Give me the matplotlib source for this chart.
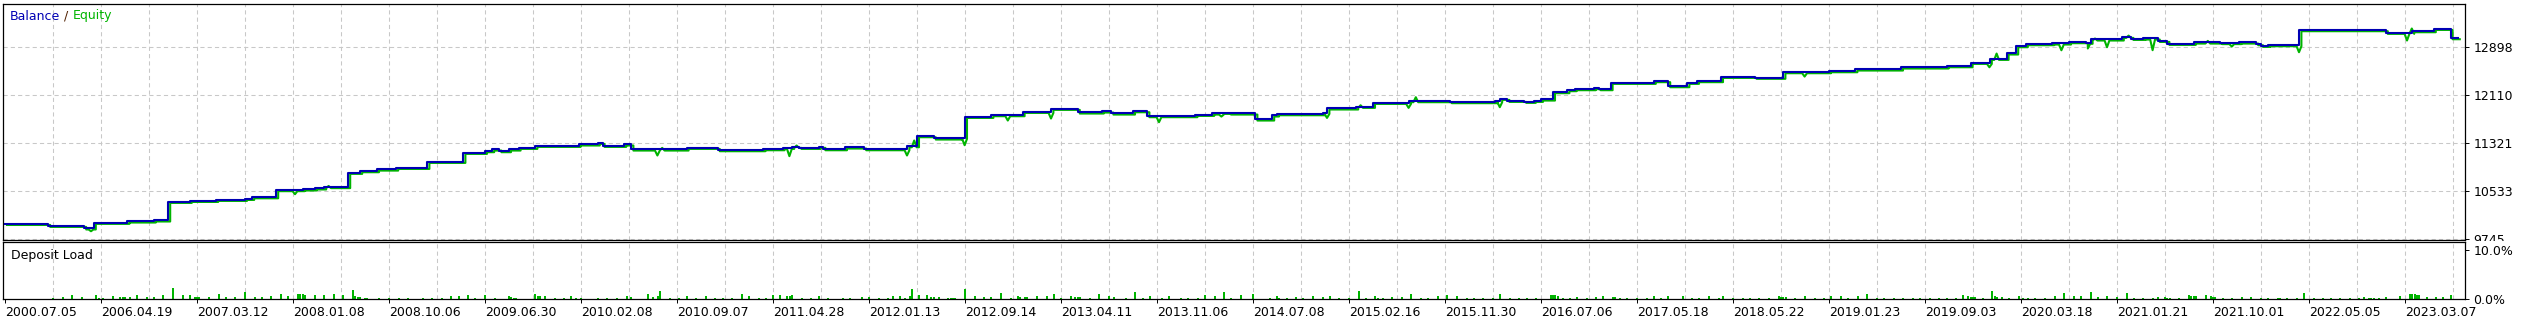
import numpy as np
import matplotlib
matplotlib.use("Agg")
import matplotlib.pyplot as plt
from matplotlib.transforms import ScaledTranslation, Bbox

# balance curve: trade number where the balance changes, and the new balance
bal_t = [0, 18, 33, 37, 51, 62, 68, 77, 88, 100, 103, 113, 124, 129, 133, 143, 148, 155, 163,
         176, 191, 200, 203, 206, 210, 214, 221, 239, 247, 249, 258, 261, 284, 297, 316, 324,
         328, 331, 339, 341, 350, 358, 376, 380, 387, 398, 400, 411, 424, 436, 447, 457, 461,
         470, 476, 496, 503, 507, 510, 521, 528, 530, 549, 551, 563, 570, 585, 602, 621, 623,
         626, 633, 637, 640, 645, 651, 654, 662, 664, 669, 687, 693, 701, 705, 715, 729, 741,
         760, 771, 790, 809, 819, 827, 834, 838, 842, 853, 860, 867, 869, 882, 886, 891, 897,
         901, 912, 923, 931, 938, 940, 943, 956, 992, 1003, 1012, 1019, 1022]
bal_v = [10000, 9968, 9926, 10018, 10040, 10057, 10362, 10378, 10395, 10411, 10438, 10555,
         10566, 10583, 10605, 10839, 10866, 10893, 10920, 11019, 11167, 11195, 11222, 11195,
         11222, 11249, 11282, 11305, 11331, 11282, 11305, 11222, 11249, 11211, 11227, 11249,
         11266, 11249, 11266, 11227, 11255, 11227, 11276, 11441, 11403, 11414, 11758, 11786,
         11840, 11890, 11830, 11846, 11813, 11851, 11770, 11791, 11813, 11824, 11813, 11715,
         11781, 11802, 11824, 11896, 11923, 11988, 12016, 12000, 12016, 12054, 12021, 12005,
         12021, 12043, 12164, 12197, 12213, 12230, 12213, 12317, 12345, 12262, 12317, 12345,
         12415, 12400, 12492, 12508, 12536, 12569, 12590, 12645, 12711, 12799, 12919, 12952,
         12963, 12985, 12975, 13029, 13072, 13039, 13045, 13006, 12957, 12979, 12970, 12979,
         12952, 12924, 12935, 13182, 13138, 13165, 13203, 13050, 13050]

# floating equity dips / spikes between closed trades
dip_t = [35, 120, 134, 271, 273, 326, 329, 375, 378, 399, 417, 435, 480, 506, 550, 564, 584,
         587, 622, 749, 826, 829, 856, 867, 870, 875, 884, 894, 917, 927, 955, 1000, 1002]
dip_v = [9897, 10505, 10641, 11141, 11266, 11130, 11305, 11141, 11387, 11310, 11715, 11748,
         11688, 11780, 11758, 11966, 11923, 12098, 11934, 12437, 12590, 12815, 12869, 12898,
         13062, 12919, 13110, 12870, 13023, 12930, 12837, 13029, 13226]

# deposit load per trade, %
load_t = [20, 24, 28, 32, 38, 39, 41, 45, 48, 49, 50, 52, 55, 59, 62, 66, 70, 74, 77, 79, 80,
          81, 85, 89, 92, 96, 100, 104, 107, 111, 115, 118, 122, 123, 124, 125, 129, 133, 137,
          141, 145, 146, 147, 148, 150, 151, 156, 160, 164, 168,
          174, 178, 182, 186, 189, 193, 196, 200, 204, 210, 211, 212, 213, 221, 222, 223, 225,
          229, 233, 236, 238, 240, 247, 251, 255, 259, 261, 268, 270, 272, 273, 277, 281, 284,
          288, 292, 296, 299, 303, 307, 310, 314, 317, 320, 323, 326, 327, 328, 332, 336, 339,
          343,
          349, 352, 357, 360, 364, 368, 370, 373, 375, 377, 378, 381, 384, 386, 387, 389, 393,
          394, 395, 396, 400, 404, 408, 411, 415, 419, 422, 423, 425, 426, 430, 434, 437, 440,
          444, 446, 447, 448, 452, 456, 460, 462, 467, 471, 474, 477, 482, 485, 490, 493, 497,
          500, 504, 508, 511, 515, 520,
          527, 530, 531, 534, 538, 541, 545, 549, 552, 556, 560, 564, 567, 571, 572, 574, 578,
          582, 586, 590, 593, 597, 601, 605, 609, 612, 616, 620, 623, 627, 631, 634, 638, 644,
          645, 646, 647, 649, 652, 655, 659, 663, 666, 670, 671, 673, 676, 680, 684, 687, 690,
          693,
          699, 703, 706, 710, 714, 716, 720, 724, 727, 731, 735, 739, 740, 741, 742, 746, 750,
          754, 758, 761, 765, 768, 772, 776, 780, 783, 787, 791, 795, 798, 802, 806, 809, 813,
          816, 818, 819, 820, 821, 824, 828, 829, 830, 832, 835, 839, 841, 843, 846, 850, 854,
          858, 862, 865, 869, 872,
          876, 880, 884, 887, 891, 895, 897, 900, 901, 902, 906, 910, 911, 912, 913, 917, 919,
          920, 921, 924, 928, 932, 936, 940, 943, 947, 948, 951, 955, 958, 962, 966, 969, 973,
          977, 981, 983, 985, 986, 987, 989, 992, 998, 1002, 1003, 1004, 1005, 1006, 1009,
          1013, 1016, 1019]
load_pct = [0.14, 0.35, 0.83, 0.35, 0.83, 0.28, 0.14, 0.63, 0.49, 0.35, 0.35, 0.35, 0.83, 0.35,
            0.35, 0.83, 2.2, 0.83, 0.83, 0.35, 0.35, 0.35, 0.35, 1.04, 0.35, 0.35, 1.46, 0.35,
            0.35, 0.63, 1.04, 0.63, 0.97, 0.97, 0.97, 0.83, 0.83, 0.83, 1.04, 0.83, 1.9, 0.63,
            0.49, 0.35, 0.14, 0.14, 0.14, 0.14, 0.14, 0.14,
            0.28, 0.28, 0.28, 0.56, 0.56, 0.76, 0.28, 0.76, 0.28, 0.56, 0.42, 0.28, 0.28, 1.11,
            0.56, 0.56, 0.56, 0.28, 0.28, 0.56, 0.28, 0.28, 0.28, 0.28, 0.28, 0.56, 0.42, 0.97,
            0.42, 0.56, 1.6, 0.28, 0.28, 0.56, 0.28, 0.56, 0.28, 0.28, 0.28, 0.97, 0.56, 0.28,
            0.28, 0.76, 0.76, 0.56, 0.56, 0.76, 0.28, 0.28, 0.56, 0.28,
            0.28, 0.28, 0.42, 0.42, 0.28, 0.28, 0.56, 0.56, 0.28, 0.56, 2.08, 0.76, 0.76, 0.42,
            0.42, 0.42, 0.28, 0.28, 0.28, 0.28, 2.08, 0.56, 0.42, 0.42, 1.25, 0.28, 0.56, 0.42,
            0.42, 0.42, 0.56, 0.56, 0.97, 0.28, 0.56, 0.42, 0.42, 0.42, 0.28, 0.97, 0.56, 0.42,
            0.28, 1.46, 0.28, 0.56, 0.28, 0.56, 0.28, 0.28, 0.28, 0.76, 0.56, 1.46, 0.28, 0.76,
            0.97,
            0.21, 0.56, 0.21, 0.21, 0.42, 0.21, 0.56, 0.42, 0.56, 0.21, 0.21, 1.6, 0.21, 0.56,
            0.21, 0.21, 0.42, 0.42, 0.97, 0.21, 0.21, 0.56, 0.76, 0.56, 0.21, 0.21, 0.21, 0.21,
            1.11, 0.21, 0.21, 0.21, 0.21, 0.76, 0.76, 0.76, 0.56, 0.21, 0.21, 0.42, 0.21, 0.42,
            0.56, 0.42, 0.42, 0.28, 0.21, 0.21, 0.21, 0.56, 0.21, 0.56,
            0.63, 0.28, 0.28, 0.63, 0.28, 0.63, 0.28, 0.28, 0.28, 0.28, 0.28, 0.63, 0.42, 0.42,
            0.42, 0.28, 0.63, 0.28, 0.28, 0.63, 0.63, 0.28, 0.63, 1.11, 0.28, 0.28, 0.28, 0.28,
            0.28, 0.28, 0.28, 0.28, 0.28, 0.28, 0.83, 0.63, 0.49, 0.49, 0.42, 0.28, 1.67, 0.63,
            0.42, 0.42, 0.28, 0.63, 0.28, 0.28, 0.28, 0.28, 0.63, 1.18, 0.63, 0.63, 1.46, 0.49,
            0.63, 0.49, 1.32, 0.28, 0.28, 0.28, 0.49, 0.49, 0.28, 0.28, 0.28, 0.83, 0.63, 0.63,
            0.63, 0.83, 0.63, 0.49, 0.49, 0.28, 0.28, 0.49, 0.49, 0.28, 0.28, 0.28, 0.28, 0.28,
            0.28, 1.18, 0.28, 0.28, 0.28, 0.28, 0.28, 0.28, 0.49, 0.28, 0.28, 0.28, 0.28, 0.49,
            0.63, 0.97, 0.97, 0.97, 0.83, 0.83, 0.42, 0.42, 0.42, 0.83]

date_labels = ["2000.07.05", "2006.04.19", "2007.03.12", "2008.01.08", "2008.10.06",
               "2009.06.30", "2010.02.08", "2010.09.07", "2011.04.28", "2012.01.13",
               "2012.09.14", "2013.04.11", "2013.11.06", "2014.07.08", "2015.02.16",
               "2015.11.30", "2016.07.06", "2017.05.18", "2018.05.22", "2019.01.23",
               "2019.09.03", "2020.03.18", "2021.01.21", "2021.10.01", "2022.05.05",
               "2023.03.07"]
bal_ticks = [9745, 10533, 11321, 12110, 12898]
load_ticks = [0, 10]
load_tick_labels = ["0.0%", "10.0%"]

BLUE = "#0000b4"
GREEN = "#00b400"
GRID = "#c8c8c8"
W, H = 2529, 322
FS = 9

plt.rcParams['font.family'] = ['DejaVu Sans']
fig = plt.figure(figsize=(W / 100, H / 100), dpi=100)
fig.patch.set_facecolor("white")

ax = fig.add_axes([3 / W, (H - 240) / H, 2462 / W, 236 / H])
ax2 = fig.add_axes([3 / W, (H - 299) / H, 2462 / W, 57 / H])

xmin, xmax = -0.83, 1025
label_step = 40
grid_ticks = np.arange(20, 1021, 20)

# ---- balance / equity panel
bt = np.array(bal_t)
bv = np.array(bal_v)
dt = np.array(dip_t)
dv = np.array(dip_v)


def balance_at(t):
    return bv[np.searchsorted(bt, t, side="right") - 1]


# equity follows the balance steps, with V-shaped excursions between trades
prev_v = np.concatenate([[bv[0]], bv[:-1]])
eq_t = np.concatenate([bt, bt, dt - 1, dt, dt + 1])
eq_v = np.concatenate([prev_v, bv, balance_at(dt - 1), dv, balance_at(dt + 1)])
key = np.concatenate([np.zeros(len(bt)), np.ones(len(bt)), np.full(len(dt), 2),
                      np.full(len(dt), 3), np.full(len(dt), 4)])
order = np.lexsort((key, eq_t))

shift = ax.transData + ScaledTranslation(2 / 100, -1.2 / 100, fig.dpi_scale_trans)
ax.plot(eq_t[order], eq_v[order], color=GREEN, lw=1.5, transform=shift, zorder=2)
ax.plot(bt, bv, drawstyle="steps-post", color=BLUE, lw=1.5, zorder=3)

ax.set_xlim(xmin, xmax)
ax.set_ylim(9733.5, 13609)
ax.set_xticks(grid_ticks)
ax.tick_params(axis="x", length=0, labelbottom=False)
ax.yaxis.tick_right()
ax.set_yticks(bal_ticks)
ax.set_yticklabels([str(v) for v in bal_ticks])
ax.tick_params(axis="y", length=3, width=0.7, pad=3, labelsize=FS, colors="black")
ax.grid(True, color=GRID, lw=0.75, ls=(0, (4, 3)))
for s in ax.spines.values():
    s.set_linewidth(0.9)

# bottom label 9745 is cut by the lower panel
first = ax.get_yticklabels()[0]
first.set_clip_box(Bbox.from_extents(0, H - 241, W, H))
first.set_clip_on(True)

t1 = ax.text(7 / 2462, 1 - 12 / 236, "Balance", color=BLUE, fontsize=FS,
             transform=ax.transAxes, va="center", ha="left")
t2 = ax.annotate(" / ", xy=(1, 0.5), xycoords=t1, va="center", ha="left",
                 color="#502000", fontsize=FS)
ax.annotate("Equity", xy=(1, 0.5), xycoords=t2, va="center", ha="left",
            color=GREEN, fontsize=FS)

# ---- deposit load panel
ax2.bar(load_t, load_pct, width=0.9, color=GREEN, linewidth=0, zorder=2)
ax2.set_xlim(xmin, xmax)
ax2.set_ylim(0, 11.63)
ax2.set_xticks(np.arange(len(date_labels)) * label_step)
ax2.set_xticklabels(date_labels, ha="left")
ax2.set_xticks(grid_ticks, minor=True)
ax2.xaxis.remove_overlapping_locs = False
ax2.tick_params(axis="x", which="major", length=3, width=0.7, pad=2, labelsize=FS)
ax2.tick_params(axis="x", which="minor", length=0)
ax2.grid(True, which="minor", axis="x", color=GRID, lw=0.75, ls=(0, (4, 3)))
ax2.yaxis.tick_right()
ax2.set_yticks(load_ticks)
ax2.set_yticklabels(load_tick_labels)
ax2.tick_params(axis="y", length=3, width=0.7, pad=3, labelsize=FS)
for s in ax2.spines.values():
    s.set_linewidth(0.9)
ax2.text(8 / 2462, 1 - 13 / 57, "Deposit Load", fontsize=FS, transform=ax2.transAxes,
         va="center", ha="left", color="black")

fig.savefig("out.png", dpi=100)
